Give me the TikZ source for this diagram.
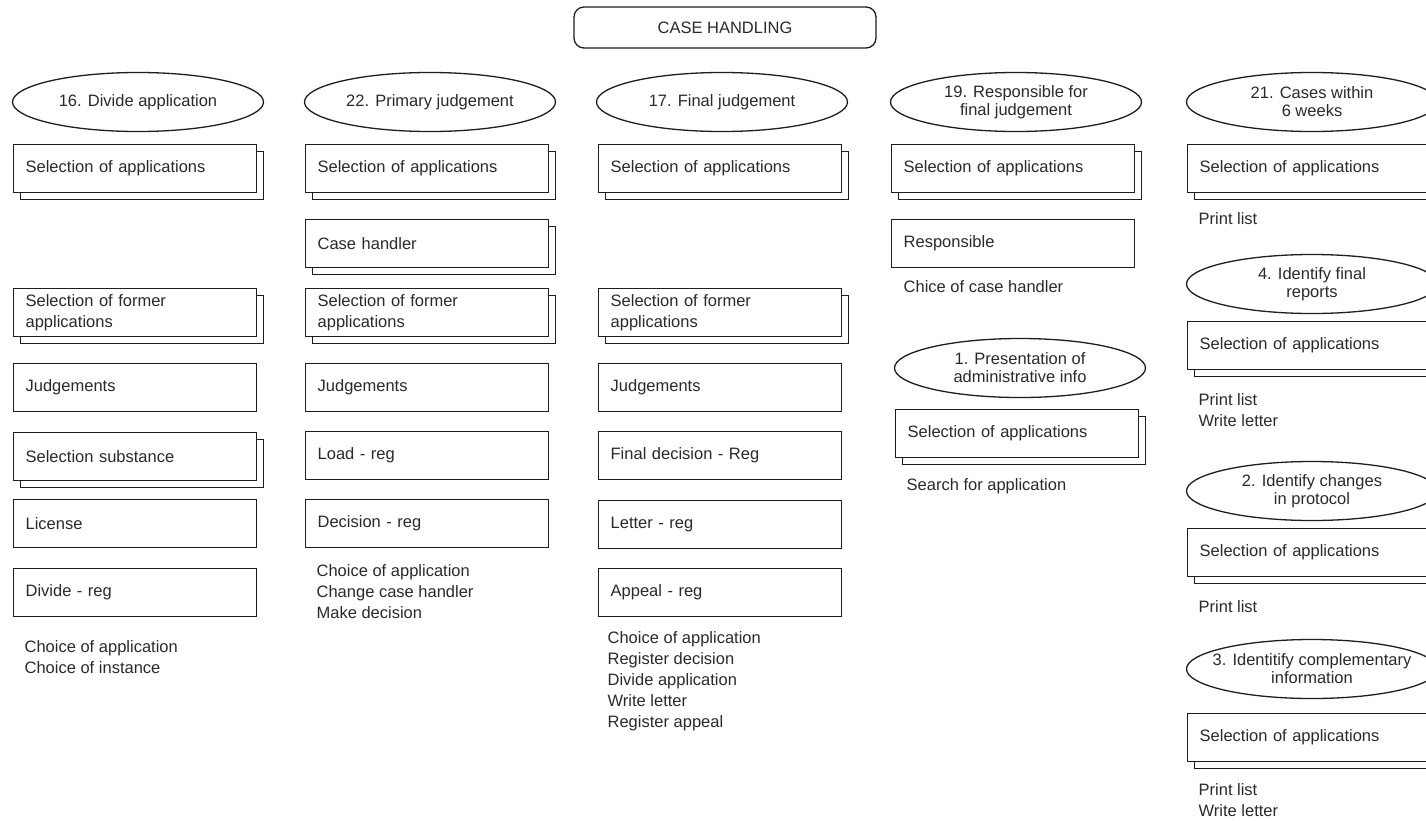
\documentclass[tikz,border=0pt]{standalone}
\usepackage{fontspec}
\setmainfont{Liberation Sans}
\usetikzlibrary{shapes.geometric,shadows}
\definecolor{inkline}{HTML}{1E1E1E}
\definecolor{inktext}{HTML}{2A2A2A}

\begin{document}
\begin{tikzpicture}[x=1pt,y=-1pt,line width=1.3pt,every node/.style={font=\fontsize{16.5}{21}\selectfont,text=inktext}]
\tikzstyle{form}=[draw=inkline,fill=white,anchor=north west,minimum width=243pt,minimum height=48pt,text width=219pt,inner xsep=12pt,inner ysep=0pt,align=left]
\tikzstyle{forms}=[form,copy shadow={shadow xshift=7pt,shadow yshift=-7pt}]
\tikzstyle{task}=[ellipse,draw=inkline,fill=white,minimum width=251pt,minimum height=59pt,inner sep=0pt,align=center,font=\fontsize{16.5}{18}\selectfont]
\tikzstyle{acts}=[anchor=north west,inner sep=0pt,align=left]
\useasboundingbox (0,0) rectangle (1426,820);

\node[draw=inkline,rounded corners=10pt,minimum width=302pt,minimum height=41pt,inner sep=0pt] (title) at (725,27.5) {CASE HANDLING};

\node[task] (divide) at (138,102) {16. Divide application};
\node[forms] (divsel) at (13,144) {Selection of applications};
\node[forms] (divformer) at (13,288) {Selection of former\\applications};
\node[form] (divjudge) at (13,363) {Judgements};
\node[forms] (divsubst) at (13,432) {Selection substance};
\node[form] (divlicense) at (13,499) {License};
\node[form] (divreg) at (13,568) {Divide - reg};
\node[acts] (divacts) at (24,640) {Choice of application\\Choice of instance};

\node[task] (primary) at (430,102) {22. Primary judgement};
\node[forms] (prisel) at (305,144) {Selection of applications};
\node[forms] (prihandler) at (305,219) {Case handler};
\node[forms] (priformer) at (305,288) {Selection of former\\applications};
\node[form] (prijudge) at (305,363) {Judgements};
\node[form] (priload) at (305,431) {Load - reg};
\node[form] (prireg) at (305,499) {Decision - reg};
\node[acts] (priacts) at (316,564) {Choice of application\\Change case handler\\Make decision};

\node[task] (final) at (722,102) {17. Final judgement};
\node[forms] (finsel) at (598,144) {Selection of applications};
\node[forms] (finformer) at (598,288) {Selection of former\\applications};
\node[form] (finjudge) at (598,363) {Judgements};
\node[form] (findecision) at (598,431) {Final decision - Reg};
\node[form] (finletter) at (598,500) {Letter - reg};
\node[form] (finappeal) at (598,568) {Appeal - reg};
\node[acts] (finacts) at (607,631) {Choice of application\\Register decision\\Divide application\\Write letter\\Register appeal};

\node[task] (respons) at (1016,102) {19. Responsible for\\final judgement};
\node[forms] (ressel) at (891,144) {Selection of applications};
\node[form] (resperson) at (891,219) {Responsible};
\node[acts] (resacts) at (903,280) {Chice of case handler};
\node[task] (present) at (1020,368) {1. Presentation of\\administrative info};
\node[forms] (presel) at (895,409) {Selection of applications};
\node[acts] (preacts) at (906,478) {Search for application};

\node[task] (weeks) at (1312,102) {21. Cases within\\6 weeks};
\node[forms] (weeksel) at (1187,144) {Selection of applications};
\node[acts] (weekacts) at (1198,212) {Print list};
\node[task] (reports) at (1312,284) {4. Identify final\\reports};
\node[forms] (repsel) at (1187,321) {Selection of applications};
\node[acts] (repacts) at (1198,393) {Print list\\Write letter};
\node[task] (protocol) at (1312,491) {2. Identify changes\\in protocol};
\node[forms] (protsel) at (1187,528) {Selection of applications};
\node[acts] (protacts) at (1198,600) {Print list};
\node[task,inner xsep=-40pt] (complement) at (1312,669) {3. Identitify complementary\\information};
\node[forms] (compsel) at (1187,713) {Selection of applications};
\node[acts] (compacts) at (1198,783) {Print list\\Write letter};
\end{tikzpicture}
\end{document}
